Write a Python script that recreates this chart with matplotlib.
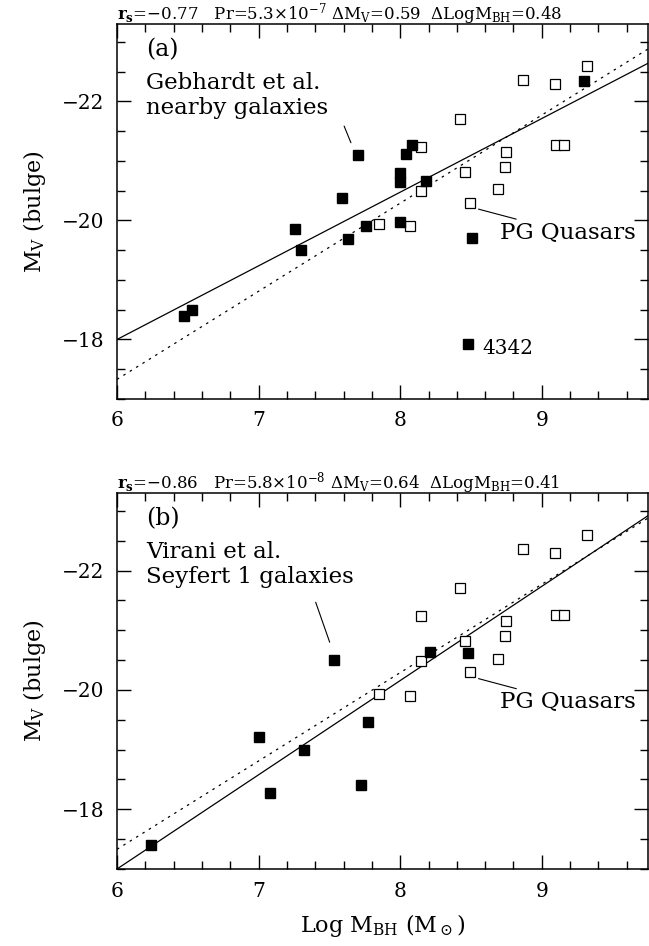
import matplotlib
matplotlib.use('Agg')
import matplotlib.pyplot as plt
from matplotlib.ticker import MultipleLocator

plt.rcParams['font.family'] = ['DejaVu Serif']
plt.rcParams['mathtext.fontset'] = 'dejavuserif'

# open squares: PG quasars (same in both panels)
pg_logm = [7.85, 8.07, 8.15, 8.15, 8.42, 8.46, 8.49, 8.69, 8.75, 8.74,
           8.87, 9.09, 9.32, 9.10, 9.16]
pg_mv = [-19.94, -19.90, -21.24, -20.49, -21.71, -20.82, -20.30, -20.52,
         -21.15, -20.90, -22.36, -22.30, -22.59, -21.26, -21.26]

# filled squares panel (a): Gebhardt et al. nearby galaxies
geb_logm = [6.47, 6.53, 7.26, 7.30, 7.59, 7.63, 7.70, 7.76, 8.00, 8.00,
            8.00, 8.04, 8.08, 8.18, 8.51, 8.48, 9.30]
geb_mv = [-18.40, -18.50, -19.86, -19.50, -20.38, -19.69, -21.10, -19.90,
          -20.79, -20.65, -19.98, -21.11, -21.27, -20.66, -19.70, -17.93, -22.35]

# filled squares panel (b): Virani et al. Seyfert 1 galaxies
vir_logm = [6.24, 7.00, 7.08, 7.32, 7.53, 7.72, 7.77, 8.21, 8.48]
vir_mv = [-17.41, -19.22, -18.28, -18.99, -20.50, -18.40, -19.47, -20.63, -20.62]

# fit lines (end points)
fit_x = [6.0, 9.75]
fit_a_solid = [-18.00, -22.64]
fit_b_solid = [-17.00, -22.92]
fit_dotted = [-17.33, -22.88]

headers = [
    r'$\mathbf{r_s}$=$-$0.77   Pr=5.3$\times$10$^{-7}$ $\Delta$M$_{\rm V}$=0.59  $\Delta$LogM$_{\rm BH}$=0.48',
    r'$\mathbf{r_s}$=$-$0.86   Pr=5.8$\times$10$^{-8}$ $\Delta$M$_{\rm V}$=0.64  $\Delta$LogM$_{\rm BH}$=0.41',
]

fig = plt.figure(figsize=(6.49, 9.46), dpi=100)
ax_a = fig.add_axes([117 / 649, (946 - 399) / 946, 531 / 649, 375 / 946])
ax_b = fig.add_axes([117 / 649, (946 - 869) / 946, 531 / 649, 376 / 946])

panels = [
    (ax_a, geb_logm, geb_mv, fit_a_solid, '(a)', ['Gebhardt et al.', 'nearby galaxies'],
     ((7.604, -21.585), (7.652, -21.305))),
    (ax_b, vir_logm, vir_mv, fit_b_solid, '(b)', ['Virani et al.', 'Seyfert 1 galaxies'],
     ((7.403, -21.47), (7.502, -20.80))),
]

for i, (ax, fx, fy, solid, tag, label, lead) in enumerate(panels):
    ax.plot(fit_x, solid, color='black', lw=0.9)
    ax.plot(fit_x, fit_dotted, color='black', lw=0.9, ls=(0, (2, 4)))
    ax.plot(pg_logm, pg_mv, 's', ms=7.6, mfc='white', mec='black', mew=0.9, ls='none')
    ax.plot(fx, fy, 's', ms=7.4, color='black', ls='none')

    ax.set_xlim(6, 9.75)
    ax.set_ylim(-17, -23.3)
    ax.xaxis.set_major_locator(MultipleLocator(1))
    ax.xaxis.set_minor_locator(MultipleLocator(0.2))
    ax.yaxis.set_major_locator(MultipleLocator(2))
    ax.yaxis.set_minor_locator(MultipleLocator(0.5))
    ax.tick_params(which='both', direction='in', top=True, right=True, width=1.0)
    ax.tick_params(which='major', length=10, labelsize=14.5, pad=9)
    ax.tick_params(which='minor', length=6)
    for sp in ax.spines.values():
        sp.set_linewidth(1.1)
    ax.set_ylabel(r'M$_{\rm V}$ (bulge)', fontsize=16, labelpad=10)

    ax.text(6.206, -22.87, tag, fontsize=17, va='center', ha='left')
    ax.text(6.206, -22.31, label[0], fontsize=16.5, va='center', ha='left')
    ax.text(6.206, -21.89, label[1], fontsize=16.5, va='center', ha='left')
    ax.annotate('', xy=lead[1], xytext=lead[0],
                arrowprops=dict(arrowstyle='-', color='black', lw=0.8,
                                shrinkA=0, shrinkB=0))
    ax.annotate('PG Quasars', xy=(8.553, -20.19), xytext=(8.706, -19.79),
                fontsize=16.5, va='center', ha='left',
                arrowprops=dict(arrowstyle='-', color='black', lw=0.8,
                                shrinkA=0, shrinkB=0))
    ax.text(0.0, 1.013, headers[i], transform=ax.transAxes, fontsize=12,
            va='baseline', ha='left')

ax_a.text(8.581, -17.84, '4342', fontsize=14.5, va='center', ha='left')
ax_b.set_xlabel(r'Log M$_{\rm BH}$ (M$_\odot$)', fontsize=16, labelpad=8)

fig.savefig('out.png', dpi=100)
